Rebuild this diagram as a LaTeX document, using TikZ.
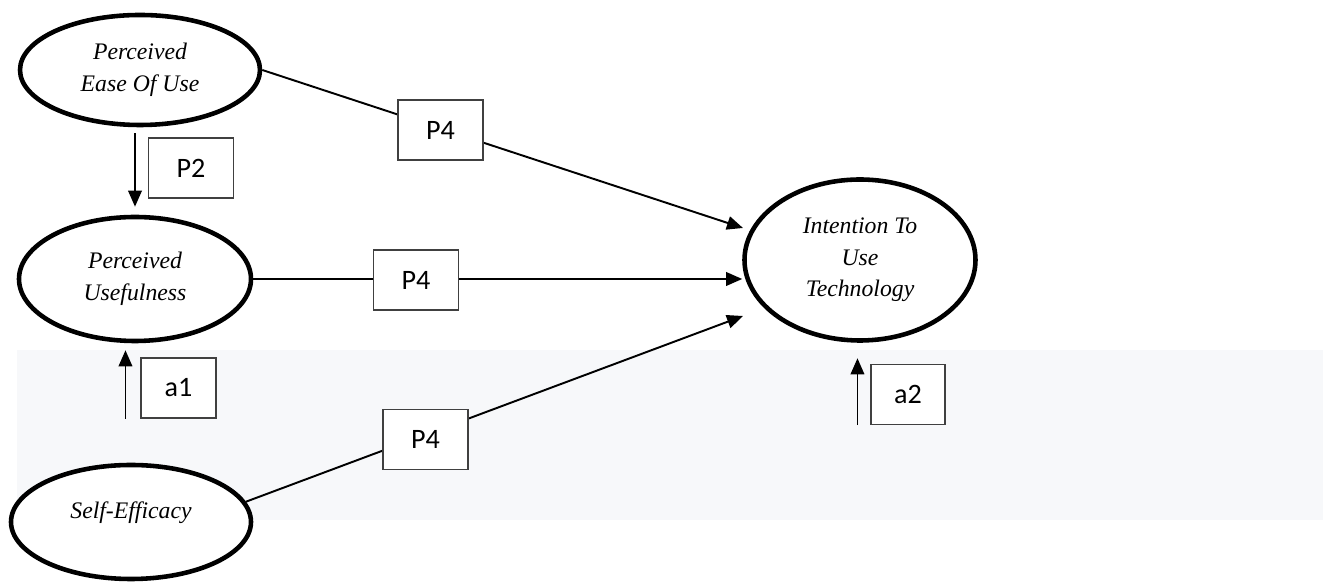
\documentclass[tikz,border=0pt]{standalone}
\usepackage{fontspec}
\setmainfont{Liberation Serif}
\newfontfamily\boxfont{Carlito}
\usepackage{tikz}
\usetikzlibrary{arrows.meta,positioning,shapes}
\definecolor{bandgray}{HTML}{F7F8FA}
\tikzstyle{tam}=[line width=1.1pt,>={Triangle[length=3.2mm,width=2.7mm]}]
\tikzstyle{latent}=[ellipse, draw, fill=white, line width=2.6pt, inner sep=0pt,
align=center, font=\fontsize{13.5}{18}\selectfont\itshape]
\tikzstyle{coef}=[rectangle, draw=black!75, fill=white, line width=0.6pt,
minimum width=1.7cm, minimum height=1.2cm, font=\boxfont\fontsize{16}{18}\selectfont]

\begin{document}
\begin{tikzpicture}[tam]
\useasboundingbox (0,0) rectangle (26.46,11.64);
% light strip behind the lower row
\fill[bandgray] (0.34,1.24) rectangle (26.46,4.64);
\node[latent,minimum width=4.8cm,minimum height=2.2cm] (peou) at (2.80,10.24) {Perceived\\Ease Of Use};
\node[latent,minimum width=4.64cm,minimum height=2.48cm] (pu) at (2.70,6.06) {Perceived\\Usefulness};
\node[latent,minimum width=4.8cm,minimum height=2.28cm,text height=0.3cm,text depth=0.44cm] (se) at (2.62,1.20) {Self-Efficacy};
\node[latent,minimum width=4.62cm,minimum height=3.22cm] (itu) at (17.20,6.44) {Intention To\\Use\\Technology};
\coordinate (itu-top) at (14.86,7.08);
\coordinate (itu-low) at (14.86,5.32);
\draw[->] (peou.east) -- (itu-top);
\draw[->] (pu.east) -- (pu.east -| itu.west);
\draw[->] (se.10) -- (itu-low);
\draw[->,shorten <=0.12cm,shorten >=0.16cm] (peou.south -| pu.north) -- (pu.north);
% coefficient boxes
\node[coef] (p4a) at (8.81,9.04) {P4};
\node[coef] (p4b) at (8.32,6.04) {P4};
\node[coef] (p4c) at (8.51,2.85) {P4};
\node[coef] (p2) at (3.82,8.28) {P2};
\node[coef,minimum width=1.5cm] (a1) at (3.57,3.88) {a1};
\node[coef,minimum width=1.48cm] (a2) at (18.16,3.75) {a2};
\draw[->,shorten >=0.14cm] ([xshift=-3mm]a1.south west) -- ([xshift=-3mm]a1.south west |- pu.south);
\draw[->,shorten >=0.31cm] ([xshift=-2.6mm]a2.south west) -- ([xshift=-2.6mm]a2.south west |- itu.south);
\end{tikzpicture}
\end{document}
